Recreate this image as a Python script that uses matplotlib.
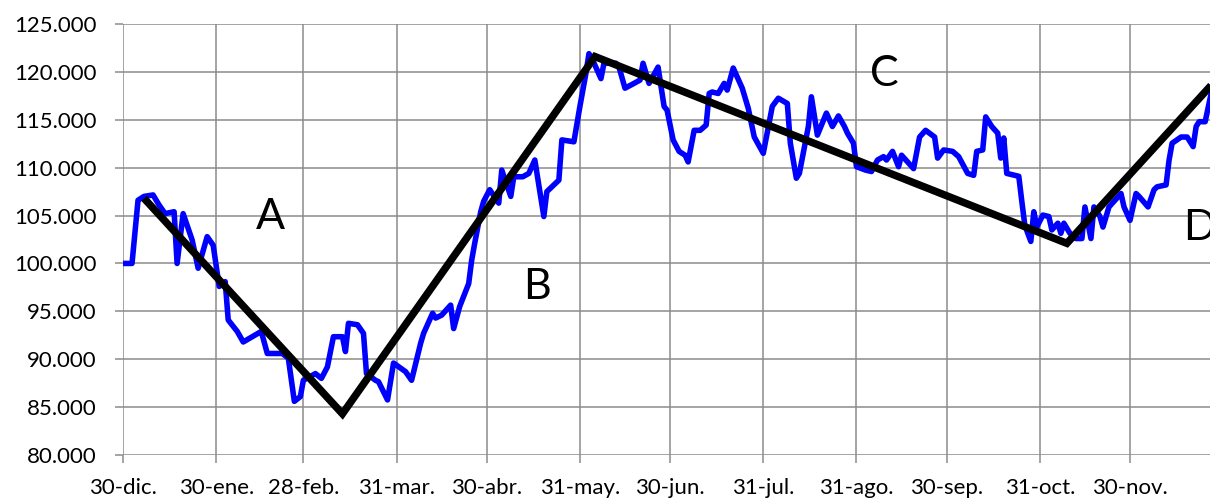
import matplotlib
matplotlib.use("Agg")
import matplotlib.pyplot as plt
from matplotlib.ticker import FixedLocator, FuncFormatter

plt.rcParams['font.family'] = ['Lato', 'DejaVu Sans']

# x positions: days since 30-dic
tick_days = [0, 31, 60, 91, 121, 152, 182, 213, 244, 274, 305, 335]
tick_labels = ["30-dic.", "30-ene.", "28-feb.", "31-mar.", "30-abr.", "31-may.",
               "30-jun.", "31-jul.", "31-ago.", "30-sep.", "31-oct.", "30-nov."]

# blue price series (day offset, value)
price_days = [0, 3, 5, 7, 10, 12, 14, 17, 18, 20, 23, 25, 28, 30, 32, 34, 35, 38, 40, 43,
              46, 48, 53, 55, 57, 59, 60, 64, 66, 68, 70, 73, 74, 75, 78, 80, 81, 84, 85, 88,
              90, 94, 96, 99, 100, 103, 104, 106, 109, 110, 112, 115, 116, 117, 119, 120, 122, 125, 126, 129,
              130, 133, 135, 137, 140, 141, 145, 146, 150, 152, 154, 155, 156, 159, 160, 164, 165, 167, 170, 172,
              173, 175, 178, 180, 181, 183, 185, 187, 188, 190, 192, 194, 195, 196, 198, 200, 201, 203, 206, 208,
              210, 213, 216, 218, 221, 222, 224, 225, 228, 229, 231, 234, 236, 238, 240, 241, 243, 244, 247, 249,
              251, 253, 254, 256, 258, 259, 261, 263, 265, 267, 270, 271, 273, 276, 278, 281, 283, 284, 286, 287,
              289, 291, 292, 293, 294, 298, 299, 300, 302, 303, 304, 306, 308, 309, 311, 312, 313, 315, 317, 319,
              320, 322, 323, 325, 326, 328, 330, 332, 333, 335, 337, 338, 341, 343, 344, 347, 348, 349, 352, 354,
              356, 357, 358, 360, 362]
price_vals = [100.0, 100.0, 106.6, 107.0, 107.15, 106.1, 105.2, 105.4, 100.0, 105.2,
              102.45, 99.5, 102.8, 101.9, 97.6, 98.1, 94.1, 92.9, 91.8, 92.35,
              92.9, 90.6, 90.6, 90.1, 85.6, 86.1, 87.8, 88.5, 88.0, 89.2,
              92.35, 92.35, 90.8, 93.75, 93.6, 92.7, 88.5, 87.8, 87.65, 85.75,
              89.6, 88.7, 87.8, 91.65, 92.7, 94.8, 94.3, 94.6, 95.65, 93.2,
              95.5, 97.9, 100.35, 102.1, 105.4, 106.5, 107.7, 106.3, 109.75, 107.0,
              109.05, 109.05, 109.4, 110.8, 104.9, 107.5, 108.7, 112.9, 112.7, 116.4,
              119.85, 121.9, 121.4, 119.3, 120.9, 120.9, 120.5, 118.3, 118.8, 119.15,
              120.9, 118.8, 120.5, 116.4, 116.0, 112.9, 111.7, 111.3, 110.6, 113.9,
              113.9, 114.45, 117.75, 117.9, 117.75, 118.8, 118.1, 120.4, 118.3, 116.2,
              113.2, 111.5, 116.4, 117.25, 116.7, 112.55, 108.9, 109.4, 114.3, 117.4,
              113.4, 115.7, 114.3, 115.4, 114.3, 113.6, 112.55, 110.1, 109.75, 109.6,
              110.8, 111.15, 110.8, 111.7, 110.1, 111.3, 110.6, 109.9, 113.2, 113.9,
              113.2, 111.0, 111.85, 111.7, 111.15, 109.4, 109.2, 111.7, 111.85, 115.3,
              114.3, 113.6, 111.0, 113.1, 109.4, 109.1, 106.5, 104.0, 102.3, 105.4,
              103.8, 105.05, 104.9, 103.5, 104.2, 103.15, 104.2, 103.15, 102.6, 102.6,
              105.9, 102.6, 105.9, 104.9, 103.8, 105.9, 106.6, 107.3, 105.9, 104.5,
              107.3, 107.0, 105.9, 107.7, 108.0, 108.2, 110.8, 112.55, 113.2, 113.2,
              112.2, 114.3, 114.8, 114.8, 117.75]

# black trend zigzag
trend_days = [7, 73, 157, 314, 362]
trend_vals = [106.8, 84.3, 121.6, 102.1, 118.6]

# wave labels
wave_labels = ["A", "B", "C", "D"]
wave_days = [49, 137.6, 253.2, 352.8]
wave_vals = [104.85, 97.5, 119.8, 103.75]

y_ticks = [80, 85, 90, 95, 100, 105, 110, 115, 120, 125]

fig = plt.figure(figsize=(12.10, 4.98), dpi=100)
ax = fig.add_axes([123 / 1210, 43 / 498, 1100.2 / 1210, 431 / 498])

ax.plot(price_days, [v * 1000 for v in price_vals], color="#0000ff", lw=4.0,
        solid_joinstyle="round", zorder=3)
ax.plot(trend_days, [v * 1000 for v in trend_vals], color="black", lw=5.4,
        solid_joinstyle="miter", solid_capstyle="butt", zorder=4)

for lab, d, v in zip(wave_labels, wave_days, wave_vals):
    ha = "left" if lab == "D" else "center"
    ax.text(d, v * 1000, lab, fontsize=31, ha=ha, va="center", color="black",
            zorder=5, clip_on=False)

ax.set_xlim(0, 366)
ax.set_ylim(80000, 125000)
ax.xaxis.set_major_locator(FixedLocator(tick_days))
ax.set_xticklabels(tick_labels)
ax.yaxis.set_major_locator(FixedLocator([t * 1000 for t in y_ticks]))
ax.yaxis.set_major_formatter(FuncFormatter(lambda v, p: f"{int(round(v)):,}".replace(",", ".")))

ax.grid(True, color="#8c8c8c", lw=1.1)
ax.set_axisbelow(True)
for s in ax.spines.values():
    s.set_visible(False)
ax.tick_params(axis="both", colors="#8c8c8c", length=5.8, width=1.1, labelcolor="black",
               labelsize=16)
ax.tick_params(axis="y", pad=13)
ax.tick_params(axis="x", pad=11)

fig.savefig("out.png", dpi=100)
